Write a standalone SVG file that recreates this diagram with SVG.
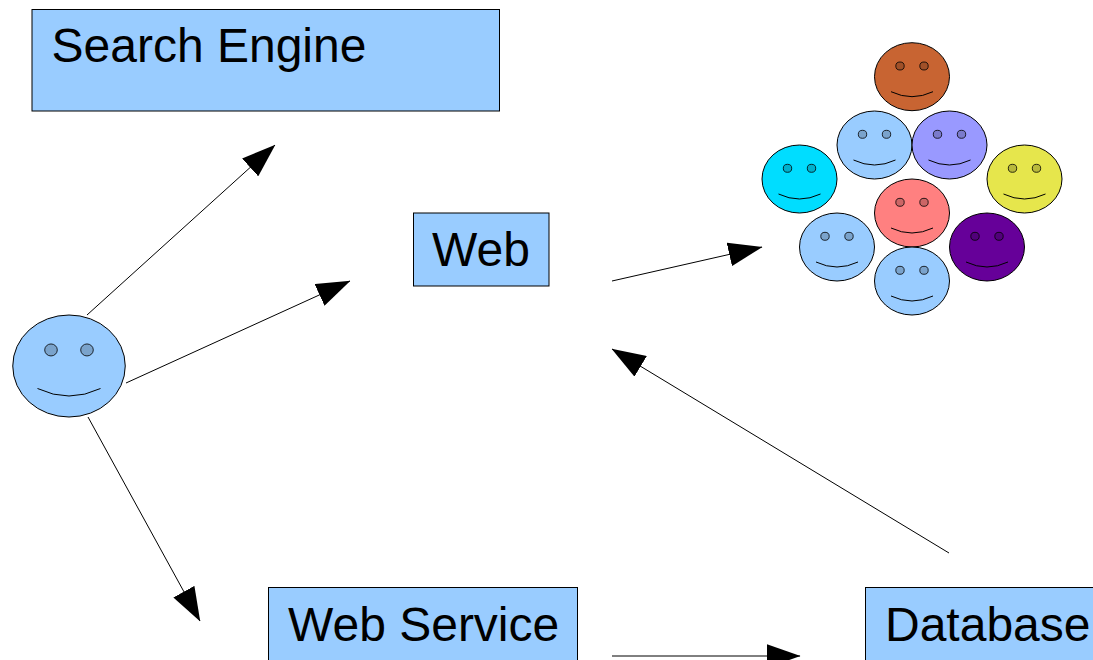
<svg xmlns="http://www.w3.org/2000/svg" xmlns:xlink="http://www.w3.org/1999/xlink" width="1093" height="660" viewBox="0 0 1093 660">
<style>
.box{fill:#99ccff;stroke:#000;stroke-width:1}
.lbl{font-family:"Liberation Sans",Arial,sans-serif;font-size:48px;fill:#000}
.head{fill:none;stroke:#000;stroke-width:1;vector-effect:non-scaling-stroke}
.eye{fill-opacity:.2;fill:#000;stroke:#000;stroke-width:.8;vector-effect:non-scaling-stroke}
.smile{fill:none;stroke:#000;stroke-width:1;vector-effect:non-scaling-stroke}
.conn{fill:none;stroke:#000;stroke-width:1;marker-end:url(#arrow)}
</style>
<defs>
<marker id="arrow" markerUnits="userSpaceOnUse" viewBox="0 0 34 24" markerWidth="34" markerHeight="24" refX="33.5" refY="12" orient="auto"><path d="M0 0L34 12L0 24Z" fill="#000"/></marker>
<g id="face">
<ellipse class="head" cx="0" cy="0" rx="37.5" ry="34"/>
<ellipse class="eye" cx="-12" cy="-10.700" rx="4.200" ry="4"/>
<ellipse class="eye" cx="12" cy="-10.700" rx="4.200" ry="4"/>
<path class="smile" d="M-21 15Q0 25 21 15"/>
</g>
</defs>
<rect width="1093" height="660" fill="#fff"/>
<g id="connectors">
<path class="conn" d="M87 315L275 145"/>
<path class="conn" d="M126 383L350 281"/>
<path class="conn" d="M88 417L200 621"/>
<path class="conn" d="M612 281L762 247"/>
<path class="conn" d="M949 553L612 349"/>
<path class="conn" d="M612 656L800 656"/>
</g>
<g id="search-engine"><rect class="box" x="32" y="9.500" width="467.500" height="101.500"/><text class="lbl" x="51.500" y="62">Search Engine</text></g>
<g id="web"><rect class="box" x="413.500" y="213" width="135.500" height="73"/><text class="lbl" x="432" y="266">Web</text></g>
<g id="web-service"><rect class="box" x="268.500" y="587.500" width="309" height="102"/><text class="lbl" x="288" y="640.500">Web Service</text></g>
<g id="database"><rect class="box" x="865.500" y="587.500" width="260" height="102"/><text class="lbl" x="885" y="640.500">Database</text></g>
<g id="user"><g transform="translate(69 366) scale(1.5)"><ellipse cx="0" cy="0" rx="37.500" ry="34" fill="#99ccff"/><use href="#face" xlink:href="#face"/></g></g>
<g id="person-brown"><ellipse cx="912" cy="76.700" rx="37.500" ry="34" fill="#c86432"/><use href="#face" xlink:href="#face" x="912" y="76.700"/></g>
<g id="person-blue-1"><ellipse cx="874.500" cy="145" rx="37.500" ry="34" fill="#99ccff"/><use href="#face" xlink:href="#face" x="874.500" y="145"/></g>
<g id="person-violet"><ellipse cx="949.500" cy="145" rx="37.500" ry="34" fill="#9999ff"/><use href="#face" xlink:href="#face" x="949.500" y="145"/></g>
<g id="person-cyan"><ellipse cx="799.500" cy="179" rx="37.500" ry="34" fill="#00ddff"/><use href="#face" xlink:href="#face" x="799.500" y="179"/></g>
<g id="person-yellow"><ellipse cx="1024.500" cy="179" rx="37.500" ry="34" fill="#e6e64c"/><use href="#face" xlink:href="#face" x="1024.500" y="179"/></g>
<g id="person-red"><ellipse cx="912" cy="213" rx="37.500" ry="34" fill="#ff8080"/><use href="#face" xlink:href="#face" x="912" y="213"/></g>
<g id="person-blue-2"><ellipse cx="837" cy="247" rx="37.500" ry="34" fill="#99ccff"/><use href="#face" xlink:href="#face" x="837" y="247"/></g>
<g id="person-purple"><ellipse cx="987" cy="247" rx="37.500" ry="34" fill="#660099"/><use href="#face" xlink:href="#face" x="987" y="247"/></g>
<g id="person-blue-3"><ellipse cx="912" cy="281" rx="37.500" ry="34" fill="#99ccff"/><use href="#face" xlink:href="#face" x="912" y="281"/></g>
</svg>
